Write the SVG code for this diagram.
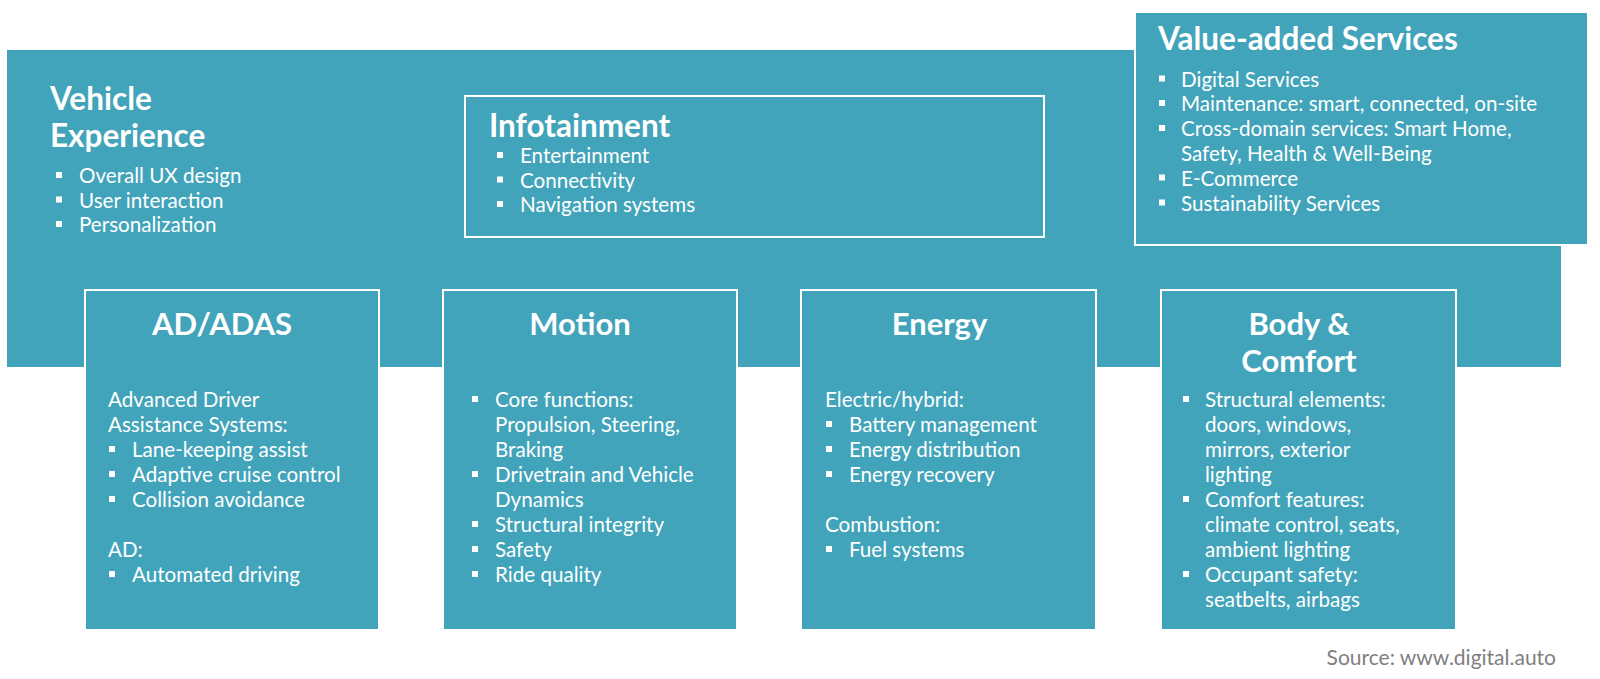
<svg xmlns="http://www.w3.org/2000/svg" xmlns:xlink="http://www.w3.org/1999/xlink" width="1600" height="679" viewBox="0 0 1600 679">
<style>
.bg{fill:#42A4BA}
.box{fill:#42A4BA;stroke:#ffffff;stroke-width:2}
text{font-family:Lato,"Liberation Sans",sans-serif;fill:#ffffff}
.t1{font-size:31.5px;font-weight:bold}
.t2{font-size:31.5px;font-weight:bold}
.tc{font-size:31px;font-weight:bold;text-anchor:middle}
.b{font-size:20.6px}
.src{font-size:21px;fill:#808080;text-anchor:end}
</style>
<defs>
<rect id="bul" x="-3" y="-11" width="6" height="6" fill="#ffffff"/>
</defs>
<rect class="bg" x="7" y="50" width="1554" height="317"/>

<g id="vehicle-experience">
<text class="t1" x="50" y="110">Vehicle</text>
<text class="t1" x="50" y="147">Experience</text>
<use xlink:href="#bul" x="59" y="183"/><text class="b" x="79" y="183">Overall UX design</text>
<use xlink:href="#bul" x="59" y="207.5"/><text class="b" x="79" y="207.5">User interaction</text>
<use xlink:href="#bul" x="59" y="232"/><text class="b" x="79" y="232">Personalization</text>
</g>

<g id="infotainment">
<rect class="box" x="465" y="96" width="579" height="141"/>
<text class="t2" x="489" y="136.5">Infotainment</text>
<use xlink:href="#bul" x="500" y="163"/><text class="b" x="520" y="163">Entertainment</text>
<use xlink:href="#bul" x="500" y="187.5"/><text class="b" x="520" y="187.5">Connectivity</text>
<use xlink:href="#bul" x="500" y="212"/><text class="b" x="520" y="212">Navigation systems</text>
</g>

<g id="value-added-services">
<rect class="box" x="1135" y="12" width="453" height="233"/>
<text class="t2" x="1158" y="49.5">Value-added Services</text>
<use xlink:href="#bul" x="1162" y="86.5"/><text class="b" x="1181" y="86.5">Digital Services</text>
<use xlink:href="#bul" x="1162" y="111"/><text class="b" x="1181" y="111">Maintenance: smart, connected, on-site</text>
<use xlink:href="#bul" x="1162" y="136"/><text class="b" x="1181" y="136">Cross-domain services: Smart Home,</text>
<text class="b" x="1181" y="161">Safety, Health &amp; Well-Being</text>
<use xlink:href="#bul" x="1162" y="185.5"/><text class="b" x="1181" y="185.5">E-Commerce</text>
<use xlink:href="#bul" x="1162" y="210.5"/><text class="b" x="1181" y="210.5">Sustainability Services</text>
</g>

<g id="ad-adas">
<rect class="box" x="85" y="290" width="294" height="340"/>
<text class="tc" x="222" y="335">AD/ADAS</text>
<text class="b" x="108" y="407">Advanced Driver</text>
<text class="b" x="108" y="432">Assistance Systems:</text>
<use xlink:href="#bul" x="112" y="457"/><text class="b" x="132" y="457">Lane-keeping assist</text>
<use xlink:href="#bul" x="112" y="482"/><text class="b" x="132" y="482">Adaptive cruise control</text>
<use xlink:href="#bul" x="112" y="507"/><text class="b" x="132" y="507">Collision avoidance</text>
<text class="b" x="108" y="557">AD:</text>
<use xlink:href="#bul" x="112" y="582"/><text class="b" x="132" y="582">Automated driving</text>
</g>

<g id="motion">
<rect class="box" x="443" y="290" width="294" height="340"/>
<text class="tc" x="580" y="335">Motion</text>
<use xlink:href="#bul" x="475" y="407"/><text class="b" x="495" y="407">Core functions:</text>
<text class="b" x="495" y="432">Propulsion, Steering,</text>
<text class="b" x="495" y="457">Braking</text>
<use xlink:href="#bul" x="475" y="482"/><text class="b" x="495" y="482">Drivetrain and Vehicle</text>
<text class="b" x="495" y="507">Dynamics</text>
<use xlink:href="#bul" x="475" y="532"/><text class="b" x="495" y="532">Structural integrity</text>
<use xlink:href="#bul" x="475" y="557"/><text class="b" x="495" y="557">Safety</text>
<use xlink:href="#bul" x="475" y="582"/><text class="b" x="495" y="582">Ride quality</text>
</g>

<g id="energy">
<rect class="box" x="801" y="290" width="295" height="340"/>
<text class="tc" x="939.5" y="335">Energy</text>
<text class="b" x="825" y="407">Electric/hybrid:</text>
<use xlink:href="#bul" x="829" y="432"/><text class="b" x="849" y="432">Battery management</text>
<use xlink:href="#bul" x="829" y="457"/><text class="b" x="849" y="457">Energy distribution</text>
<use xlink:href="#bul" x="829" y="482"/><text class="b" x="849" y="482">Energy recovery</text>
<text class="b" x="825" y="532">Combustion:</text>
<use xlink:href="#bul" x="829" y="557"/><text class="b" x="849" y="557">Fuel systems</text>
</g>

<g id="body-comfort">
<rect class="box" x="1161" y="290" width="295" height="340"/>
<text class="tc" x="1299" y="335">Body &amp;</text>
<text class="tc" x="1299" y="372">Comfort</text>
<use xlink:href="#bul" x="1186" y="407"/><text class="b" x="1205" y="407">Structural elements:</text>
<text class="b" x="1205" y="432">doors, windows,</text>
<text class="b" x="1205" y="457">mirrors, exterior</text>
<text class="b" x="1205" y="482">lighting</text>
<use xlink:href="#bul" x="1186" y="507"/><text class="b" x="1205" y="507">Comfort features:</text>
<text class="b" x="1205" y="532">climate control, seats,</text>
<text class="b" x="1205" y="557">ambient lighting</text>
<use xlink:href="#bul" x="1186" y="582"/><text class="b" x="1205" y="582">Occupant safety:</text>
<text class="b" x="1205" y="607">seatbelts, airbags</text>
</g>

<g id="connectors"></g>

<text class="src" x="1556" y="665">Source: www.digital.auto</text>
</svg>
